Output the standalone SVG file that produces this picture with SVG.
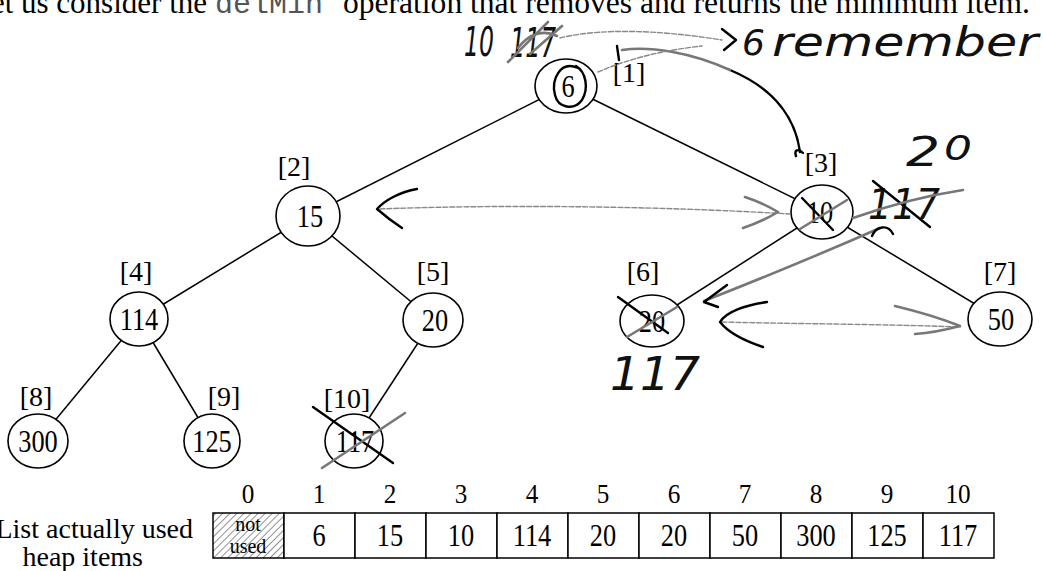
<svg xmlns="http://www.w3.org/2000/svg" width="1043" height="571" viewBox="0 0 1043 571">
<style>
  .bg{fill:#ffffff}
  .node ellipse{fill:#ffffff;stroke:#000;stroke-width:1.6}
  .edge{stroke:#000;stroke-width:1.5;fill:none}
  .serif{font-family:"Liberation Serif","Times New Roman",serif;fill:#000}
  .lbl{font-size:28px;text-anchor:middle}
  .num{font-size:31px;text-anchor:middle;transform-box:fill-box;transform-origin:center;transform:scaleX(0.85)}
  .idx{font-size:28px;text-anchor:middle;transform-box:fill-box;transform-origin:center;transform:scaleX(0.9)}
  .cell{fill:#fff;stroke:#000;stroke-width:1.5}
  .hand{font-family:"DejaVu Sans",sans-serif;font-style:italic;fill:#111}
  .ink{stroke:#000;stroke-width:2.4;fill:none;stroke-linecap:round;stroke-linejoin:round}
  .pencil{stroke:#777;stroke-width:2.6;fill:none;stroke-linecap:round;stroke-linejoin:round}
  .thin{stroke:#888;stroke-width:1.4;fill:none;stroke-dasharray:5 2;stroke-linecap:round}
</style>
<defs>
  <pattern id="hatch" width="5" height="5" patternUnits="userSpaceOnUse" patternTransform="rotate(45)">
    <line x1="0" y1="0" x2="0" y2="5" stroke="#555" stroke-width="1.3"/>
  </pattern>
</defs>
<rect class="bg" x="0" y="0" width="1043" height="571"/>

<g id="heading">
  <text class="serif" x="207" y="13" font-size="31" text-anchor="end">Let us consider the</text>
  <text x="215" y="13" font-family="Liberation Mono, Courier New, monospace" font-size="30" fill="#555" textLength="108" lengthAdjust="spacingAndGlyphs">delMin</text>
  <text class="serif" x="343" y="13" font-size="31" textLength="687" lengthAdjust="spacingAndGlyphs">operation that removes and returns the minimum item.</text>
</g>

<g id="connectors">
  <line class="edge" x1="566" y1="86" x2="308" y2="216"/>
  <line class="edge" x1="566" y1="86" x2="822" y2="212"/>
  <line class="edge" x1="308" y1="216" x2="139" y2="319"/>
  <line class="edge" x1="308" y1="216" x2="433" y2="320"/>
  <line class="edge" x1="822" y1="212" x2="652" y2="321"/>
  <line class="edge" x1="822" y1="212" x2="1000" y2="319"/>
  <line class="edge" x1="139" y1="319" x2="38" y2="441"/>
  <line class="edge" x1="139" y1="319" x2="212" y2="441"/>
  <line class="edge" x1="433" y1="320" x2="354" y2="441"/>
</g>

<g id="node1" class="node">
  <ellipse cx="566" cy="86" rx="31" ry="27"/>
  <text class="serif num" x="568" y="97">6</text>
  <text class="serif lbl" x="629" y="82">[1]</text>
</g>
<g id="node2" class="node">
  <ellipse cx="308" cy="216" rx="32" ry="30"/>
  <text class="serif num" x="310" y="227">15</text>
  <text class="serif lbl" x="294" y="176">[2]</text>
</g>
<g id="node3" class="node">
  <ellipse cx="822" cy="212" rx="31" ry="27"/>
  <text class="serif num" x="820" y="223">10</text>
  <text class="serif lbl" x="821" y="172">[3]</text>
</g>
<g id="node4" class="node">
  <ellipse cx="139" cy="319" rx="29" ry="27"/>
  <text class="serif num" x="139" y="330">114</text>
  <text class="serif lbl" x="136" y="281">[4]</text>
</g>
<g id="node5" class="node">
  <ellipse cx="433" cy="320" rx="30" ry="27"/>
  <text class="serif num" x="435" y="331">20</text>
  <text class="serif lbl" x="433" y="281">[5]</text>
</g>
<g id="node6" class="node">
  <ellipse cx="652" cy="321" rx="32" ry="26"/>
  <text class="serif num" x="652" y="332">20</text>
  <text class="serif lbl" x="643" y="281">[6]</text>
</g>
<g id="node7" class="node">
  <ellipse cx="1000" cy="319" rx="32" ry="27"/>
  <text class="serif num" x="1001" y="330">50</text>
  <text class="serif lbl" x="1000" y="281">[7]</text>
</g>
<g id="node8" class="node">
  <ellipse cx="38" cy="441" rx="30" ry="27"/>
  <text class="serif num" x="38" y="452">300</text>
  <text class="serif lbl" x="36" y="406">[8]</text>
</g>
<g id="node9" class="node">
  <ellipse cx="212" cy="441" rx="28" ry="27"/>
  <text class="serif num" x="212" y="452">125</text>
  <text class="serif lbl" x="224" y="406">[9]</text>
</g>
<g id="node10" class="node">
  <ellipse cx="354" cy="441" rx="29" ry="27"/>
  <text class="serif num" x="355" y="452">117</text>
  <text class="serif lbl" x="347" y="408">[10]</text>
</g>

<g id="array">
  <rect x="213" y="513" width="71" height="45" fill="url(#hatch)" stroke="#000" stroke-width="1.5"/>
  <rect class="cell" x="284" y="513" width="71" height="45"/>
  <rect class="cell" x="355" y="513" width="71" height="45"/>
  <rect class="cell" x="426" y="513" width="71" height="45"/>
  <rect class="cell" x="497" y="513" width="71" height="45"/>
  <rect class="cell" x="568" y="513" width="71" height="45"/>
  <rect class="cell" x="639" y="513" width="71" height="45"/>
  <rect class="cell" x="710" y="513" width="71" height="45"/>
  <rect class="cell" x="781" y="513" width="71" height="45"/>
  <rect class="cell" x="852" y="513" width="71" height="45"/>
  <rect class="cell" x="923" y="513" width="71" height="45"/>
  <text class="serif" x="248" y="531" font-size="20" text-anchor="middle">not</text>
  <text class="serif" x="248" y="553" font-size="20" text-anchor="middle">used</text>
  <g class="serif">
    <text class="idx" x="248" y="503">0</text>
    <text class="idx" x="319" y="503">1</text>
    <text class="idx" x="390" y="503">2</text>
    <text class="idx" x="461" y="503">3</text>
    <text class="idx" x="532" y="503">4</text>
    <text class="idx" x="603" y="503">5</text>
    <text class="idx" x="674" y="503">6</text>
    <text class="idx" x="745" y="503">7</text>
    <text class="idx" x="816" y="503">8</text>
    <text class="idx" x="887" y="503">9</text>
    <text class="idx" x="958" y="503">10</text>
    <text class="num" x="319" y="546">6</text>
    <text class="num" x="390" y="546">15</text>
    <text class="num" x="461" y="546">10</text>
    <text class="num" x="532" y="546">114</text>
    <text class="num" x="603" y="546">20</text>
    <text class="num" x="674" y="546">20</text>
    <text class="num" x="745" y="546">50</text>
    <text class="num" x="816" y="546">300</text>
    <text class="num" x="887" y="546">125</text>
    <text class="num" x="958" y="546">117</text>
  </g>
  <text class="serif" x="193" y="538" font-size="28" text-anchor="end">List actually used</text>
  <text class="serif" x="143" y="566" font-size="28" text-anchor="end">heap items</text>
</g>

<g id="annotations">
  <!-- top handwriting -->
  <text class="hand" x="464" y="56" font-size="40" textLength="30" lengthAdjust="spacingAndGlyphs">10</text>
  <text class="hand" x="510" y="57" font-size="40" textLength="46" lengthAdjust="spacingAndGlyphs">117</text>
  <path class="pencil" d="M508 62 L548 22 M518 48 C530 32 545 30 557 36 M530 54 L562 26"/>
  <path class="ink" d="M617 46 L619 60"/>
  <path class="thin" d="M560 38 C600 28 660 30 722 40"/>
  <path class="ink" d="M722 29 L736 40 L724 50"/>
  <text class="hand" x="742" y="55" font-size="36">6</text>
  <text class="hand" x="772" y="56" font-size="40" textLength="266" lengthAdjust="spacingAndGlyphs">remember</text>
  <!-- curve from [3] up to the top note -->
  <path class="ink" d="M800 152 C796 122 778 90 730 70"/>
  <path class="pencil" d="M730 70 C690 52 650 46 622 50" stroke-width="1.6"/>
  <path class="thin" d="M598 72 C630 58 665 50 702 46"/>
  <path class="ink" d="M803 153 C798 148 794 150 796 156" stroke-width="1.6"/>
  <!-- hand circle around 6 -->
  <path class="ink" d="M578 68 C560 60 551 80 555 95 C558 108 574 111 582 100 C589 88 586 72 576 66" stroke-width="1.8"/>
  <!-- node 3 area -->
  <text class="hand" x="906" y="166" font-size="40" textLength="34" lengthAdjust="spacingAndGlyphs">2</text>
  <text class="hand" x="944" y="160" font-size="34" textLength="28" lengthAdjust="spacingAndGlyphs">0</text>
  <text class="hand" x="868" y="219" font-size="42" textLength="72" lengthAdjust="spacingAndGlyphs">117</text>
  <path class="ink" d="M873 181 L930 227"/>
  <path class="pencil" d="M853 218 C890 205 930 195 963 190"/>
  <path class="ink" d="M802 198 L833 230"/>
  <path class="pencil" d="M800 229 L847 200"/>
  <!-- double arrow 15 <-> 10 -->
  <path class="thin" d="M380 209 C480 205 640 205 790 214"/>
  <path class="ink" d="M417 189 C400 192 385 200 377 209 C385 216 393 222 402 228" stroke-width="3"/>
  <path class="pencil" d="M745 197 C760 202 770 207 778 212 C768 218 755 224 743 228"/>
  <!-- arrow from 10 down to 20 -->
  <path class="pencil" d="M880 228 C830 250 770 275 704 301"/>
  <path class="ink" d="M872 236 C876 226 888 224 893 234"/>
  <path class="ink" d="M727 285 L704 302 L718 307"/>
  <!-- double arrow 20 <-> 50 -->
  <path class="thin" d="M722 322 C800 324 880 324 960 327"/>
  <path class="ink" d="M767 302 C745 305 726 312 720 322 C730 335 748 342 763 347" stroke-width="3"/>
  <path class="pencil" d="M895 306 C920 312 945 320 960 326 C945 330 930 333 915 334"/>
  <text class="hand" x="610" y="390" font-size="46" textLength="90" lengthAdjust="spacingAndGlyphs">117</text>
  <!-- crosses -->
  <path class="ink" d="M618 297 L668 333"/>
  <path class="pencil" d="M627 337 L677 307"/>
  <path class="ink" d="M313 407 L393 463"/>
  <path class="pencil" d="M322 468 L405 413"/>
</g>
</svg>
